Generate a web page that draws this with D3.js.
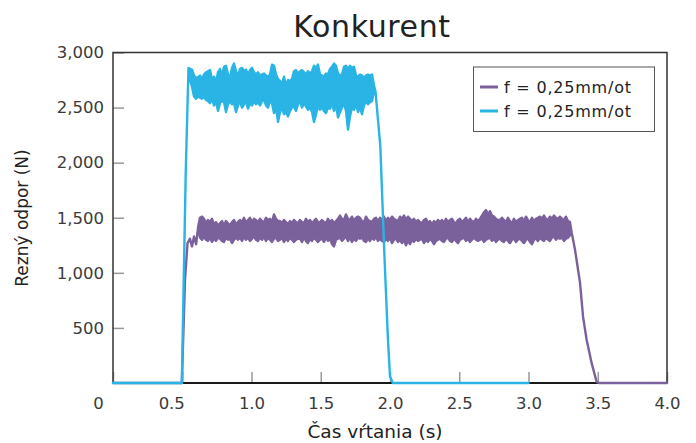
<!DOCTYPE html>
<html>
<head>
<meta charset="utf-8">
<script src="https://cdn.jsdelivr.net/npm/d3@7"></script>
<style>
  html, body { margin: 0; padding: 0; background: #fff; }
  svg { display: block; font-family: "DejaVu Sans", sans-serif; }
</style>
</head>
<body>
<svg id="chart" width="696" height="443"></svg>
<script>
// axis ticks
const xTicks = [0, 0.5, 1.0, 1.5, 2.0, 2.5, 3.0, 3.5, 4.0];
const xTickLabels = ["0", "0.5", "1.0", "1.5", "2.0", "2.5", "3.0", "3.5", "4.0"];
const yTicks = [500, 1000, 1500, 2000, 2500, 3000];
const seriesNames = ["f = 0,25mm/ot", "f = 0,25mm/ot"];

// the plateaus are noisy: read as max / min force per reading window
const sampleStep = 0.01444;

// purple series: ramp in [time, force], plateau (max/min), ramp out
const purpleLead = [[0, 0], [0.497, 0], [0.52, 940], [0.538, 1270], [0.556, 1310],
                    [0.57, 1240], [0.585, 1330], [0.60, 1260], [0.615, 1420]];
const purpleStart = 0.628;
const purpleMax = [
  1500, 1510, 1490, 1450, 1480, 1460, 1490, 1440, 1460, 1430,
  1450, 1470, 1430, 1470, 1450, 1430, 1460, 1480, 1440, 1460,
  1480, 1460, 1500, 1450, 1480, 1500, 1460, 1490, 1480, 1460,
  1490, 1470, 1460, 1500, 1480, 1490, 1460, 1530, 1490, 1470,
  1470, 1450, 1480, 1460, 1440, 1470, 1450, 1480, 1460, 1450,
  1480, 1460, 1450, 1490, 1460, 1480, 1450, 1470, 1490, 1460,
  1460, 1480, 1460, 1450, 1490, 1460, 1480, 1450, 1470, 1490,
  1520, 1490, 1480, 1530, 1490, 1480, 1510, 1470, 1500, 1510,
  1500, 1470, 1460, 1510, 1480, 1470, 1460, 1490, 1500, 1470,
  1500, 1480, 1510, 1470, 1500, 1480, 1510, 1490, 1480, 1470,
  1510, 1490, 1520, 1480, 1510, 1490, 1470, 1490, 1460, 1480,
  1460, 1450, 1480, 1490, 1450, 1470, 1440, 1470, 1450, 1480,
  1460, 1480, 1450, 1490, 1460, 1480, 1490, 1460, 1450, 1480,
  1490, 1460, 1480, 1500, 1460, 1490, 1470, 1460, 1490, 1470,
  1490, 1520, 1550, 1570, 1530, 1560, 1520, 1510, 1490, 1480,
  1480, 1500, 1480, 1460, 1500, 1470, 1450, 1490, 1460, 1480,
  1490, 1500, 1470, 1510, 1480, 1460, 1500, 1470, 1490, 1500,
  1510, 1490, 1520, 1490, 1480, 1510, 1490, 1520, 1500, 1490,
  1510, 1490, 1480, 1510, 1470, 1460
];
const purpleMin = [
  1320, 1300, 1330, 1300, 1290, 1320, 1280, 1310, 1290, 1320,
  1310, 1290, 1280, 1320, 1300, 1310, 1270, 1300, 1320, 1300,
  1320, 1290, 1330, 1300, 1320, 1290, 1310, 1330, 1300, 1290,
  1320, 1300, 1330, 1290, 1320, 1300, 1280, 1310, 1320, 1290,
  1300, 1320, 1280, 1310, 1290, 1320, 1300, 1280, 1300, 1310,
  1310, 1280, 1320, 1290, 1270, 1310, 1290, 1320, 1300, 1280,
  1300, 1310, 1280, 1320, 1290, 1310, 1260, 1240, 1300, 1310,
  1320, 1290, 1310, 1330, 1290, 1320, 1280, 1310, 1290, 1320,
  1310, 1320, 1290, 1280, 1310, 1290, 1320, 1300, 1330, 1290,
  1310, 1290, 1280, 1310, 1290, 1320, 1270, 1300, 1310, 1280,
  1300, 1270, 1300, 1250, 1290, 1260, 1300, 1280, 1310, 1290,
  1300, 1310, 1270, 1300, 1280, 1310, 1290, 1260, 1290, 1300,
  1310, 1290, 1280, 1310, 1320, 1290, 1280, 1310, 1290, 1270,
  1300, 1310, 1320, 1290, 1310, 1280, 1300, 1320, 1300, 1290,
  1300, 1310, 1280, 1300, 1310, 1320, 1290, 1310, 1280, 1300,
  1310, 1290, 1280, 1310, 1290, 1270, 1300, 1310, 1280, 1300,
  1310, 1290, 1270, 1300, 1310, 1280, 1260, 1300, 1310, 1290,
  1320, 1300, 1290, 1320, 1300, 1290, 1320, 1330, 1300, 1320,
  1310, 1320, 1290, 1310, 1320, 1340
];
const purpleTail = [[3.312, 1364], [3.336, 1209], [3.372, 909], [3.394, 600],
                    [3.420, 390], [3.456, 180], [3.492, 10], [3.51, 0], [4.0, 0]];

// blue series
const blueLead = [[0, 0], [0.497, 0], [0.525, 1900], [0.545, 2860]];
const blueStart = 0.556;
const blueMax = [
  2850, 2845, 2790, 2770, 2775, 2790, 2760, 2800, 2820, 2830,
  2840, 2760, 2780, 2730, 2820, 2850, 2790, 2870, 2880, 2800,
  2770, 2860, 2900, 2830, 2780, 2850, 2860, 2830, 2845, 2800,
  2840, 2860, 2820, 2800, 2820, 2790, 2800, 2810, 2790, 2780,
  2800, 2890, 2880, 2800, 2760, 2740, 2720, 2780, 2700, 2750,
  2740, 2760, 2830, 2840, 2810, 2830, 2840, 2820, 2800, 2830,
  2810, 2830, 2880, 2860, 2890, 2800, 2790, 2780, 2810, 2800,
  2850, 2870, 2900, 2880, 2810, 2790, 2800, 2870, 2880, 2850,
  2880, 2860, 2870, 2790, 2780, 2800, 2790, 2770, 2790, 2800,
  2790, 2800, 2700
];
const blueMin = [
  2750, 2690, 2600, 2580, 2600, 2590, 2580, 2600, 2570, 2560,
  2540, 2580, 2520, 2560, 2470, 2540, 2560, 2550, 2460, 2530,
  2560, 2530, 2540, 2460, 2520, 2560, 2500, 2530, 2560, 2490,
  2540, 2520, 2560, 2530, 2550, 2520, 2560, 2570, 2520, 2500,
  2560, 2540, 2450, 2500, 2370, 2460, 2500, 2440, 2460, 2420,
  2470, 2500, 2510, 2470, 2530, 2560, 2500, 2540, 2510, 2480,
  2500, 2460, 2370, 2440, 2520, 2480, 2500, 2470, 2450, 2500,
  2490, 2540, 2470, 2520, 2410, 2460, 2500, 2540, 2470, 2300,
  2420, 2500, 2480, 2530, 2460, 2500, 2440, 2520, 2560, 2530,
  2550, 2560, 2650
];
const blueTail = [[1.895, 2650], [1.93, 2150], [1.96, 1150], [1.985, 400],
                  [2.0, 60], [2.02, 0], [3.0, 0]];

const colors = ["#7b619c", "#29b4e5"];

// rows: [time, min, max]; ramps have min === max
function buildSeries(lead, start, maxVals, minVals, tail) {
    return lead.map(d => [d[0], d[1], d[1]])
        .concat(maxVals.map((v, i) => [start + i * sampleStep, minVals[i], v]))
        .concat(tail.map(d => [d[0], d[1], d[1]]));
}

const series = [
    buildSeries(purpleLead, purpleStart, purpleMax, purpleMin, purpleTail),
    buildSeries(blueLead, blueStart, blueMax, blueMin, blueTail)
];

const svg = d3.select("#chart");
const plotLeft = 113, plotRight = 667, plotTop = 52.5, plotBottom = 383;

const x = d3.scaleLinear().domain([0, 4]).range([plotLeft, plotRight]);
const y = d3.scaleLinear().domain([0, 3000]).range([plotBottom, plotTop]);

// title
svg.append("text")
    .attr("x", 372).attr("y", 37)
    .attr("text-anchor", "middle")
    .attr("font-size", 30)
    .attr("letter-spacing", 0.6)
    .attr("fill", "#222")
    .text("Konkurent");

// y axis (ticks inside)
const yAxis = svg.append("g")
    .attr("transform", `translate(${plotLeft},0)`)
    .call(d3.axisLeft(y).tickValues(yTicks).tickSize(-11).tickPadding(9).tickFormat(d3.format(",")));
yAxis.select(".domain").remove();
yAxis.selectAll("line").attr("stroke", "#999").attr("stroke-width", 1.5);
yAxis.selectAll("text").attr("font-size", 16.5).attr("fill", "#3a3a3a").attr("font-family", "DejaVu Sans");

// x axis (ticks inside)
const xLabelShift = { 0: -15, 0.5: -11 };
const xAxis = svg.append("g")
    .attr("transform", `translate(0,${plotBottom})`)
    .call(d3.axisBottom(x).tickValues(xTicks).tickSize(-11).tickPadding(14)
        .tickFormat((d, i) => xTickLabels[i]));
xAxis.select(".domain").remove();
xAxis.selectAll("line").attr("stroke", "#999").attr("stroke-width", 1.5);
xAxis.selectAll("text")
    .attr("font-size", 16.5).attr("fill", "#3a3a3a").attr("font-family", "DejaVu Sans")
    .attr("dx", d => xLabelShift[d] || 0);

// frame
svg.append("rect")
    .attr("x", plotLeft).attr("y", plotTop)
    .attr("width", plotRight - plotLeft).attr("height", plotBottom - plotTop)
    .attr("fill", "none").attr("stroke", "#333").attr("stroke-width", 1.5);
svg.append("line")
    .attr("x1", plotLeft).attr("x2", plotRight).attr("y1", plotBottom).attr("y2", plotBottom)
    .attr("stroke", "#000").attr("stroke-width", 1.5);

// series: noisy band drawn as min/max area, outlined so ramps keep a line width
const band = d3.area()
    .x(d => x(d[0]))
    .y0(d => y(d[1]))
    .y1(d => y(d[2]));
svg.append("g")
    .selectAll("path")
    .data(series)
    .enter().append("path")
    .attr("d", band)
    .attr("fill", (d, i) => colors[i])
    .attr("stroke", (d, i) => colors[i])
    .attr("stroke-width", 2.4)
    .attr("stroke-linejoin", "round");

// axis titles
svg.append("text")
    .attr("x", 375).attr("y", 438)
    .attr("text-anchor", "middle")
    .attr("font-size", 18.5)
    .attr("fill", "#222")
    .text("Čas vŕtania (s)");

svg.append("text")
    .attr("transform", "translate(28,218) rotate(-90)")
    .attr("text-anchor", "middle")
    .attr("font-size", 17)
    .attr("fill", "#222")
    .text("Rezný odpor (N)");

// legend
const legend = svg.append("g");
legend.append("rect")
    .attr("x", 473.5).attr("y", 67)
    .attr("width", 181).attr("height", 64.5)
    .attr("fill", "#fff").attr("stroke", "#555").attr("stroke-width", 1);

const items = legend.selectAll("g.item")
    .data(seriesNames)
    .enter().append("g")
    .attr("class", "item")
    .attr("transform", (d, i) => `translate(480,${87 + i * 24})`);
items.append("line")
    .attr("x1", 0).attr("x2", 18)
    .attr("stroke", (d, i) => colors[i])
    .attr("stroke-width", 3);
items.append("text")
    .attr("x", 24).attr("y", 5.5)
    .attr("font-size", 16)
    .attr("letter-spacing", 0.8)
    .attr("fill", "#222")
    .text(d => d);
</script>
</body>
</html>
